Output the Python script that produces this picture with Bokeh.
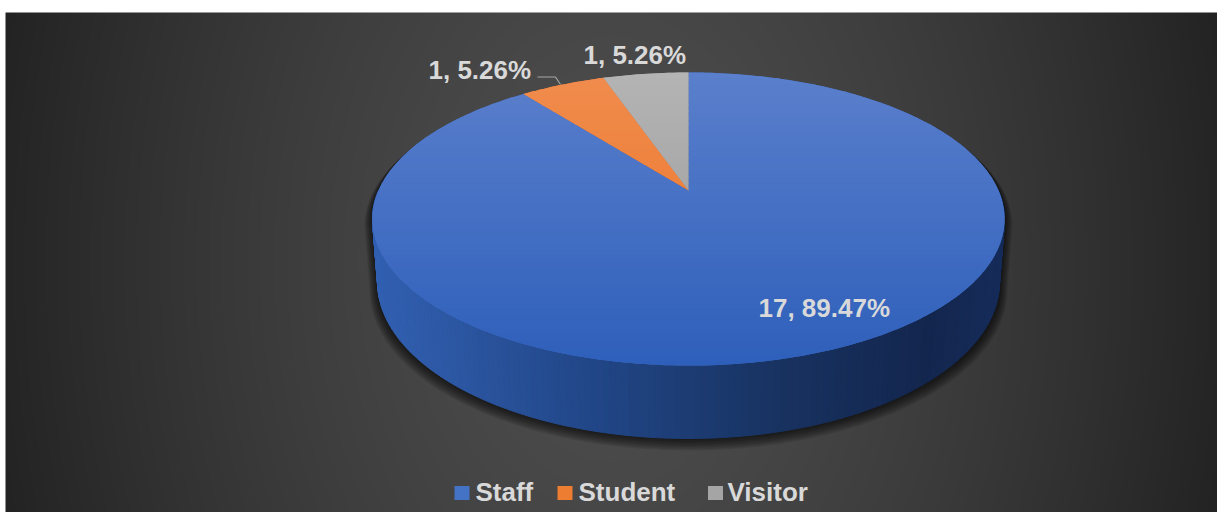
import numpy as np
from bokeh.plotting import figure
from bokeh.models import Range1d
from bokeh.core.properties import value
from bokeh.embed import file_html
from bokeh.resources import INLINE

# ---- data ----
categories = ["Staff", "Student", "Visitor"]
counts = [17, 1, 1]

# ---- styles ----
face_top = [(90, 127, 204), (240, 140, 78), (180, 180, 180)]
face_bot = [(46, 95, 186), (236, 112, 32), (150, 150, 150)]
legend_colors = ["#4472C4", "#ED7D31", "#A5A5A5"]
TEXT = "#d9d9d9"
FONT = value("Liberation Sans")

# pie projection parameters (screen px)
CX, CY = 688.0, 190.0
A, B, K = 310.0, 141.0, 0.1946
AB = 305.0
H = 61.0
Y_TOP, Y_BOT = 72.0, 366.0

def top_pt(t):
    den = 1 + K * np.cos(t)
    return CX + A * np.sin(t) / den, CY - B * np.cos(t) / den

def bot_pt(t):
    den = 1 + K * np.cos(t)
    return (CX + AB * np.sin(t) / den,
            CY - B * (AB / A) * np.cos(t) / den + H / den)

def hexc(c):
    return "#%02x%02x%02x" % tuple(int(round(v)) for v in c)

def lerp(c1, c2, f):
    return tuple(a + (b - a) * f for a, b in zip(c1, c2))

p = figure(width=1217, height=512, x_range=Range1d(0, 1217), y_range=Range1d(512, 0),
           output_backend="svg", toolbar_location=None, min_border=0)
p.axis.visible = False
p.grid.visible = False
p.outline_line_color = None
p.background_fill_color = "white"
p.border_fill_color = "white"

# ---- background radial gradient ----
W, Hh = 606, 250
xs = np.linspace(5, 1217, W)
ys = np.linspace(12, 512, Hh)
XX, YY = np.meshgrid(xs, ys)
d = np.sqrt(((XX - 611) / 610) ** 2 + ((YY - 262) / 900) ** 2)
c = 78 - 41 * np.clip(d, 0, 1.05) ** 1.4
c = np.clip(c, 0, 255).astype(np.uint32)
img = (255 << 24) | (c << 16) | (c << 8) | c
p.image_rgba(image=[img.astype(np.uint32)], x=5, y=12, dw=1212, dh=500)

# ---- shadow ----
tR = np.arccos(-K)
tL = 2 * np.pi - tR
t_top = np.linspace(tR, tL - 2 * np.pi, 240)
t_bot = np.linspace(tL, tR, 200)
ox = np.concatenate([top_pt(t_top)[0], bot_pt(t_bot)[0]])
oy = np.concatenate([top_pt(t_top)[1], bot_pt(t_bot)[1]])
sh_x, sh_y = [], []
for g in np.linspace(8, 1, 8):
    sx = 1 + g / 316
    sy = 1 + g / 366
    sh_x.append(list(CX + (ox - CX) * sx))
    sh_y.append(list(72 + (oy - 72) * sy + 0.5 * g))
p.patches(sh_x, sh_y, fill_color="black", fill_alpha=0.1, line_color=None)

# ---- slice angles ----
total = sum(counts)
fr = np.array(counts) / total
ends = np.cumsum(fr) * 2 * np.pi
starts = ends - fr * 2 * np.pi

# ---- side wall (front half) ----
side_stops = [(0.0, (50, 96, 178)), (0.35, (33, 70, 135)), (0.65, (24, 50, 96)),
              (0.88, (19, 38, 78)), (1.0, (22, 44, 90))]

def side_color(u):
    f = np.clip((u - 372) / 632, 0, 1)
    for (f1, c1), (f2, c2) in zip(side_stops[:-1], side_stops[1:]):
        if f <= f2:
            return lerp(c1, c2, (f - f1) / (f2 - f1))
    return side_stops[-1][1]

def slice_side_color(idx, u):
    if idx == 0:
        return side_color(u)
    return tuple(np.array(face_bot[idx]) * 0.6)

wx, wy, wc = [], [], []
tt = np.linspace(np.pi / 2, 3 * np.pi / 2, 181)
for t1, t2 in zip(tt[:-1], tt[1:]):
    tm = 0.5 * (t1 + t2)
    idx = int(np.searchsorted(ends, tm % (2 * np.pi)))
    idx = min(idx, len(counts) - 1)
    a1, b1 = top_pt(t1)
    a2, b2 = top_pt(t2)
    c1x, c1y = bot_pt(t1)
    c2x, c2y = bot_pt(t2)
    wx.append([a1, a2, c2x, c1x])
    wy.append([b1, b2, c2y, c1y])
    wc.append(hexc(slice_side_color(idx, 0.5 * (a1 + a2))))
p.patches(wx, wy, fill_color=wc, line_color=wc, line_width=1)

# ---- top face ----
def clip_band(poly, y0, y1):
    def half(pts, keep, by):
        out = []
        n = len(pts)
        for i in range(n):
            cur, prev = pts[i], pts[i - 1]
            ci, pi_ = keep(cur), keep(prev)
            if ci:
                if not pi_:
                    s = (by - prev[1]) / (cur[1] - prev[1])
                    out.append((prev[0] + s * (cur[0] - prev[0]), by))
                out.append(cur)
            elif pi_:
                s = (by - prev[1]) / (cur[1] - prev[1])
                out.append((prev[0] + s * (cur[0] - prev[0]), by))
        return out
    pts = half(poly, lambda q: q[1] >= y0, y0)
    if pts:
        pts = half(pts, lambda q: q[1] <= y1, y1)
    return pts

face_x, face_y, face_c = [], [], []
band_x, band_y, band_c = [], [], []
edges = np.linspace(Y_TOP - 1, Y_BOT + 1, 46)
for i, (s, e) in enumerate(zip(starts, ends)):
    n = max(6, int(np.degrees(e - s)))
    ts = np.linspace(s, e, n)
    px, py = top_pt(ts)
    poly = [(CX, CY)] + list(zip(px, py))
    face_x.append([q[0] for q in poly])
    face_y.append([q[1] for q in poly])
    face_c.append(hexc(lerp(face_top[i], face_bot[i], 0.5)))
    for y0, y1 in zip(edges[:-1], edges[1:]):
        cp = clip_band(poly, y0, y1 + 0.8)
        if len(cp) >= 3:
            f = np.clip((0.5 * (y0 + y1) - Y_TOP) / (Y_BOT - Y_TOP), 0, 1)
            band_x.append([q[0] for q in cp])
            band_y.append([q[1] for q in cp])
            band_c.append(hexc(lerp(face_top[i], face_bot[i], f)))
p.patches(face_x, face_y, fill_color=face_c, line_color=None)
p.patches(band_x, band_y, fill_color=band_c, line_color=None)

# ---- data labels ----
labels = ["%d, %.2f%%" % (v, v / total * 100) for v in counts]
label_x = [758, 428, 583]
label_y = [307.5, 69.5, 54.5]
p.text(x=label_x, y=label_y, text=labels, text_color=TEXT, text_font=FONT,
       text_font_size="26px", text_font_style="bold", text_baseline="middle",
       text_align="left")
# leader line for Student label
p.line(x=[537, 555, 560], y=[76.5, 76.5, 84], line_color="#a6a6a6", line_width=1.2)

# ---- legend ----
leg_sq_x = [461.5, 564.5, 715]
leg_tx_x = [475, 578, 727]
p.rect(x=leg_sq_x, y=[492.5] * 3, width=15, height=14, fill_color=legend_colors,
       line_color=None)
p.text(x=leg_tx_x, y=[491.5] * 3, text=categories, text_color=TEXT, text_font=FONT,
       text_font_size="26px", text_font_style="bold", text_baseline="middle",
       text_align="left")

open("out.html", "w").write(file_html(p, INLINE))
